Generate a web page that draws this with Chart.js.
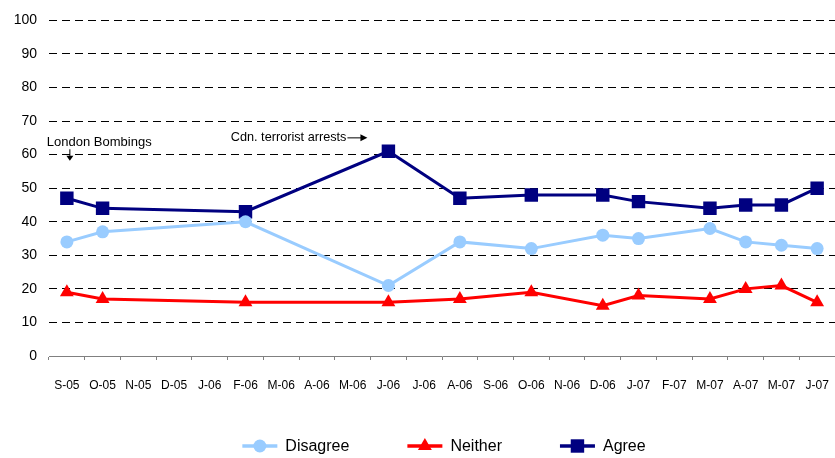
<!DOCTYPE html>
<html>
<head>
<meta charset="utf-8">
<script src="https://cdn.jsdelivr.net/npm/chart.js@4/dist/chart.umd.min.js"></script>
<style>
  html, body { margin: 0; padding: 0; background: #fff; }
  #wrap { width: 835px; height: 458px; }
</style>
</head>
<body>
<div id="wrap"><canvas id="poll_chart"></canvas></div>
<script>
//! Data
const months = ['S-05', 'O-05', 'N-05', 'D-05', 'J-06', 'F-06', 'M-06', 'A-06', 'M-06', 'J-06', 'J-06',
    'A-06', 'S-06', 'O-06', 'N-06', 'D-06', 'J-07', 'F-07', 'M-07', 'A-07', 'M-07', 'J-07'];

// null = no survey that month
const disagree = [34, 37, null, null, null, 40, null, null, null, 21, null,
    34, null, 32, null, 36, 35, null, 38, 34, 33, 32];
const neither = [19, 17, null, null, null, 16, null, null, null, 16, null,
    17, null, 19, null, 15, 18, null, 17, 20, 21, 16];
const agree = [47, 44, null, null, null, 43, null, null, null, 61, null,
    47, null, 48, null, 48, 46, null, 44, 45, 45, 50];

const yTicks = [0, 10, 20, 30, 40, 50, 60, 70, 80, 90, 100];

const FONT = "'Liberation Sans', Arial, sans-serif";

//! Notes over the chart
const notesPlugin = {
    id: 'notes',
    afterDatasetsDraw(chart) {
        const ctx = chart.ctx;
        const x = chart.scales.x, y = chart.scales.y;
        ctx.save();
        ctx.fillStyle = '#000';
        ctx.strokeStyle = '#000';
        ctx.lineWidth = 1;
        ctx.textBaseline = 'middle';

        // London Bombings, arrow pointing down at the first survey
        const x0 = x.getPixelForValue(0);
        ctx.font = `13px ${FONT}`;
        ctx.textAlign = 'left';
        ctx.fillText('London Bombings', x0 - 20, y.getPixelForValue(63.5));
        const ax = x0 + 3, ay1 = y.getPixelForValue(61.6), ay2 = y.getPixelForValue(58.2);
        ctx.beginPath();
        ctx.moveTo(ax, ay1);
        ctx.lineTo(ax, ay2 - 4);
        ctx.stroke();
        ctx.beginPath();
        ctx.moveTo(ax - 3.5, ay2 - 5);
        ctx.lineTo(ax + 3.5, ay2 - 5);
        ctx.lineTo(ax, ay2);
        ctx.closePath();
        ctx.fill();

        // Cdn. terrorist arrests, arrow pointing right
        const tip = x.getPixelForValue(9) - 21;
        const ty = y.getPixelForValue(65);
        ctx.font = `12.7px ${FONT}`;
        ctx.textAlign = 'right';
        ctx.fillText('Cdn. terrorist arrests', tip - 21, ty);
        ctx.beginPath();
        ctx.moveTo(tip - 20, ty);
        ctx.lineTo(tip - 6, ty);
        ctx.stroke();
        ctx.beginPath();
        ctx.moveTo(tip - 7, ty - 3.5);
        ctx.lineTo(tip - 7, ty + 3.5);
        ctx.lineTo(tip, ty);
        ctx.closePath();
        ctx.fill();
        ctx.restore();
    }
};

//! Legend: line with marker, then the label
const legendPlugin = {
    id: 'lineLegend',
    afterDraw(chart) {
        const ctx = chart.ctx;
        const area = chart.chartArea;
        const sets = chart.data.datasets;
        const lineLen = 35, gapText = 8, gapItem = 58, yMid = 446;
        ctx.save();
        ctx.font = `16px ${FONT}`;
        const widths = sets.map(ds => ctx.measureText(ds.label).width);
        let total = widths.reduce((s, w) => s + lineLen + gapText + w, 0) + gapItem * (sets.length - 1);
        let cx = (area.left + area.right) / 2 - total / 2 + 2;
        sets.forEach((ds, i) => {
            ctx.strokeStyle = ds.borderColor;
            ctx.lineWidth = 3.5;
            ctx.beginPath();
            ctx.moveTo(cx, yMid);
            ctx.lineTo(cx + lineLen, yMid);
            ctx.stroke();
            ctx.fillStyle = ds.pointBackgroundColor;
            Chart.helpers.drawPoint(ctx, {
                pointStyle: ds.pointStyle,
                radius: ds.pointRadius,
                borderWidth: 0,
                rotation: 0
            }, cx + lineLen / 2, yMid);
            ctx.fillStyle = '#000';
            ctx.textAlign = 'left';
            ctx.textBaseline = 'middle';
            ctx.fillText(ds.label, cx + lineLen + gapText, yMid + 1);
            cx += lineLen + gapText + widths[i] + gapItem;
        });
        ctx.restore();
    }
};

//! Chart
const ctx = document.getElementById('poll_chart').getContext('2d');
const my_chart = new Chart(ctx, {
    type: 'line',
    data: {
        labels: months,
        datasets: [
            {
                label: 'Disagree',
                data: disagree,
                borderColor: '#99CCFF',
                backgroundColor: '#99CCFF',
                pointBackgroundColor: '#99CCFF',
                pointBorderColor: '#99CCFF',
                pointStyle: 'circle',
                pointRadius: 6.5,
                borderWidth: 3,
                pointBorderWidth: 0,
                spanGaps: true
            },
            {
                label: 'Neither',
                data: neither,
                borderColor: '#FF0000',
                backgroundColor: '#FF0000',
                pointBackgroundColor: '#FF0000',
                pointBorderColor: '#FF0000',
                pointStyle: 'triangle',
                pointRadius: 8,
                borderWidth: 3,
                pointBorderWidth: 0,
                spanGaps: true
            },
            {
                label: 'Agree',
                data: agree,
                borderColor: '#000080',
                backgroundColor: '#000080',
                pointBackgroundColor: '#000080',
                pointBorderColor: '#000080',
                pointStyle: 'rect',
                pointRadius: 9.5,
                borderWidth: 3,
                pointBorderWidth: 0,
                spanGaps: true
            }
        ]
    },
    options: {
        responsive: true,
        maintainAspectRatio: false,
        animation: false,
        layout: { autoPadding: false, padding: { top: 19, right: 0, bottom: 62, left: 0 } },
        plugins: {
            legend: { display: false },
            tooltip: { enabled: false }
        },
        scales: {
            x: {
                offset: true,
                grid: {
                    display: true,
                    drawOnChartArea: false,
                    drawTicks: true,
                    tickLength: 4,
                    offset: true,
                    color: '#808080'
                },
                border: { display: true, color: '#808080', width: 1 },
                ticks: {
                    autoSkip: false,
                    maxRotation: 0,
                    padding: 18,
                    color: '#000',
                    font: { family: FONT, size: 12 }
                },
                afterFit(scale) {
                    scale.height = 40;
                    scale.paddingLeft = 0;
                    scale.paddingRight = 0;
                }
            },
            y: {
                min: 0,
                max: 100,
                afterBuildTicks(scale) { scale.ticks = yTicks.map(v => ({ value: v })); },
                grid: {
                    drawTicks: false,
                    color: ctx => ctx.tick && ctx.tick.value === 0 ? 'rgba(0,0,0,0)' : '#000',
                    lineWidth: 1
                },
                border: { display: false, dash: [8, 5] },
                ticks: {
                    padding: 12,
                    color: '#000',
                    font: { family: FONT, size: 14 }
                },
                afterFit(scale) { scale.width = 49; }
            }
        }
    },
    plugins: [notesPlugin, legendPlugin]
});
</script>
</body>
</html>
